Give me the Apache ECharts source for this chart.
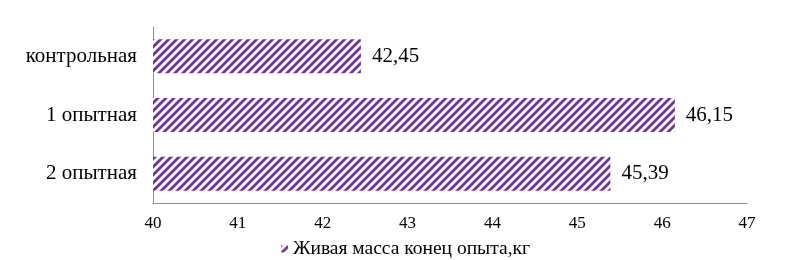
<!DOCTYPE html>
<html>
<head>
<meta charset="utf-8">
<script src="https://cdn.jsdelivr.net/npm/echarts@6/dist/echarts.min.js"></script>
<style>html,body{margin:0;padding:0;background:#fff}#c{width:788px;height:260px}</style>
</head>
<body>
<div id="c"></div>
<script>
const categories = ['контрольная', '1 опытная', '2 опытная'];
const values = [42.45, 46.15, 45.39];
const seriesName = 'Живая масса конец опыта,кг';
const xTicks = [40, 41, 42, 43, 44, 45, 46, 47];

function makePattern() {
  const s = 8;
  const cv = document.createElement('canvas');
  cv.width = s; cv.height = s;
  const ctx = cv.getContext('2d');
  ctx.fillStyle = '#ffffff';
  ctx.fillRect(0, 0, s, s);
  ctx.strokeStyle = '#7030A0';
  ctx.lineWidth = 2.8;
  ctx.lineCap = 'square';
  [-s, 0, s].forEach(dx => {
    ctx.beginPath();
    ctx.moveTo(dx, s);
    ctx.lineTo(dx + s, 0);
    ctx.stroke();
  });
  return cv;
}
const pat = { image: makePattern(), repeat: 'repeat' };

const chart = echarts.init(document.getElementById('c'), null, { renderer: 'canvas' });
const font = '"Liberation Serif", "Times New Roman", serif';
chart.setOption({
  animation: false,
  textStyle: { fontFamily: font },
  grid: { left: 153, right: 41, top: 27, bottom: 57, containLabel: false },
  xAxis: {
    type: 'value', min: xTicks[0], max: xTicks[xTicks.length - 1], interval: 1,
    axisLine: { show: true, lineStyle: { color: '#8c8c8c', width: 1 } },
    axisTick: { show: false },
    splitLine: { show: false },
    axisLabel: { color: '#000', fontSize: 17, fontFamily: font, margin: 12 }
  },
  yAxis: {
    type: 'category', data: categories, inverse: true,
    axisLine: { show: true, lineStyle: { color: '#8c8c8c', width: 1 } },
    axisTick: { show: false },
    axisLabel: { color: '#000', fontSize: 21, fontFamily: font, margin: 16 }
  },
  legend: {
    top: 234, left: 276,
    itemWidth: 7, itemHeight: 7, itemGap: 5,
    textStyle: { color: '#000', fontSize: 19.5, fontFamily: font },
    data: [{ name: seriesName, icon: 'rect' }]
  },
  series: [{
    name: seriesName, type: 'bar', data: values,
    barWidth: '58%',
    itemStyle: { color: pat },
    label: {
      show: true, position: 'right', distance: 11,
      color: '#000', fontSize: 21, fontFamily: font,
      formatter: p => p.value.toFixed(2).replace('.', ',')
    }
  }]
});
</script>
</body>
</html>
